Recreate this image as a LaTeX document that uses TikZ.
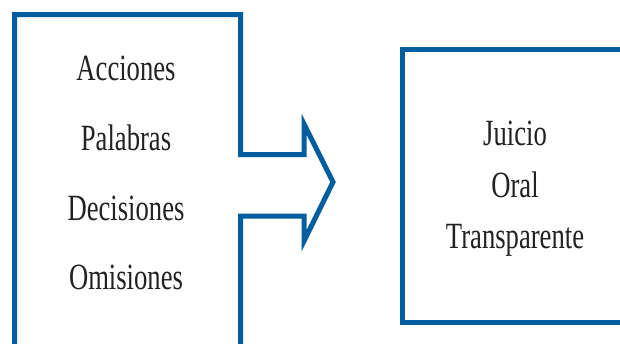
\documentclass[tikz,border=0pt]{standalone}
\usepackage{fontspec}
\setmainfont[FakeStretch=0.72]{Liberation Serif}
\definecolor{frameblue}{RGB}{0,94,160}
\definecolor{inkgray}{RGB}{34,34,34}
\begin{document}
\begin{tikzpicture}[x=1pt,y=-1pt,
  frame/.style={draw=frameblue,line width=5pt,line join=miter},
  word/.style={anchor=base,text=inkgray,font=\fontsize{37}{44}\selectfont,inner sep=0pt}]
\useasboundingbox (0,0) rectangle (620,343);
\begin{scope}
\clip (0,0) rectangle (620,343);
% left box, opening into the arrow on its right side
\draw[frame] (14.5,360) -- (14.5,14.5) -- (240.5,14.5) -- (240.5,154.5)
  -- (304,154.5) -- (304,124) -- (333,182) -- (304,241) -- (304,216)
  -- (240.5,216) -- (240.5,360);
% right box
\draw[frame] (640,49) -- (402.5,49) -- (402.5,322.5) -- (640,322.5);
\end{scope}
% left column
\node[word] (acc) at (126,80) {Acciones};
\node[word] (pal) at (126,150) {Palabras};
\node[word] (dec) at (126,220) {Decisiones};
\node[word] (omi) at (126,289) {Omisiones};
% right column
\node[word] (jui) at (515,145) {Juicio};
\node[word] (ora) at (515,197) {Oral};
\node[word] (tra) at (515,248) {Transparente};
\end{tikzpicture}
\end{document}
